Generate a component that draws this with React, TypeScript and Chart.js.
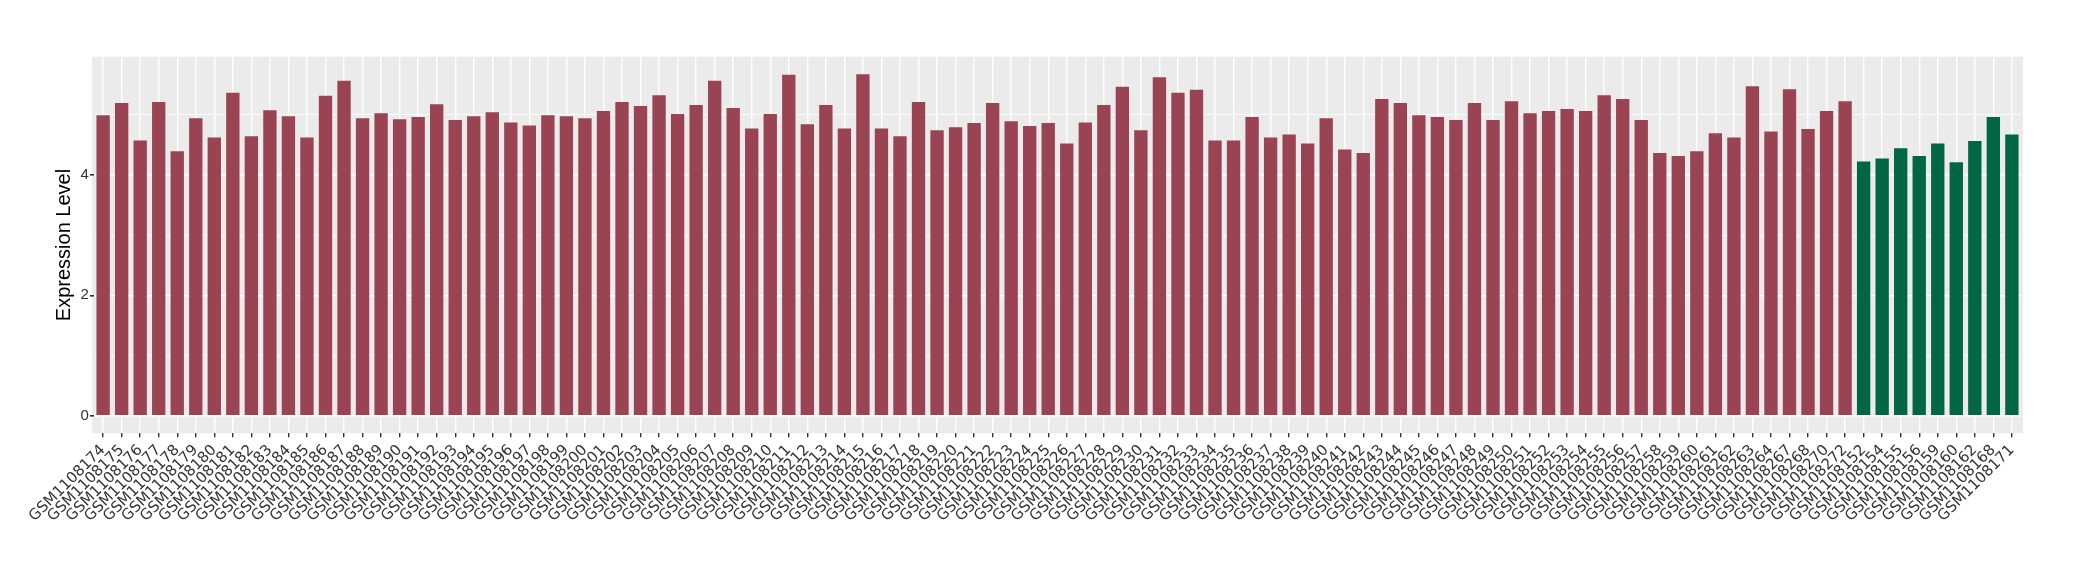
import { useEffect, useRef } from 'react';
import { Chart, registerables } from 'chart.js';

Chart.register(...registerables);

// ---- data ----
const TUMOR_SAMPLES = [
  'GSM1108174', 'GSM1108175', 'GSM1108176', 'GSM1108177', 'GSM1108178', 'GSM1108179', 'GSM1108180', 'GSM1108181',
  'GSM1108182', 'GSM1108183', 'GSM1108184', 'GSM1108185', 'GSM1108186', 'GSM1108187', 'GSM1108188', 'GSM1108189',
  'GSM1108190', 'GSM1108191', 'GSM1108192', 'GSM1108193', 'GSM1108194', 'GSM1108195', 'GSM1108196', 'GSM1108197',
  'GSM1108198', 'GSM1108199', 'GSM1108200', 'GSM1108201', 'GSM1108202', 'GSM1108203', 'GSM1108204', 'GSM1108205',
  'GSM1108206', 'GSM1108207', 'GSM1108208', 'GSM1108209', 'GSM1108210', 'GSM1108211', 'GSM1108212', 'GSM1108213',
  'GSM1108214', 'GSM1108215', 'GSM1108216', 'GSM1108217', 'GSM1108218', 'GSM1108219', 'GSM1108220', 'GSM1108221',
  'GSM1108222', 'GSM1108223', 'GSM1108224', 'GSM1108225', 'GSM1108226', 'GSM1108227', 'GSM1108228', 'GSM1108229',
  'GSM1108230', 'GSM1108231', 'GSM1108232', 'GSM1108233', 'GSM1108234', 'GSM1108235', 'GSM1108236', 'GSM1108237',
  'GSM1108238', 'GSM1108239', 'GSM1108240', 'GSM1108241', 'GSM1108242', 'GSM1108243', 'GSM1108244', 'GSM1108245',
  'GSM1108246', 'GSM1108247', 'GSM1108248', 'GSM1108249', 'GSM1108250', 'GSM1108251', 'GSM1108252', 'GSM1108253',
  'GSM1108254', 'GSM1108255', 'GSM1108256', 'GSM1108257', 'GSM1108258', 'GSM1108259', 'GSM1108260', 'GSM1108261',
  'GSM1108262', 'GSM1108263', 'GSM1108264', 'GSM1108267', 'GSM1108268', 'GSM1108270', 'GSM1108272',
];

const NORMAL_SAMPLES = [
  'GSM1108152', 'GSM1108154', 'GSM1108155', 'GSM1108156', 'GSM1108159',
  'GSM1108160', 'GSM1108162', 'GSM1108168', 'GSM1108171',
];

const TUMOR_VALUES = [
  4.99, 5.19, 4.57, 5.21, 4.39, 4.94, 4.62, 5.36, 4.64, 5.07, 4.97, 4.62, 5.31,
  5.56, 4.94, 5.02, 4.92, 4.96, 5.17, 4.91, 4.97, 5.04, 4.87, 4.82, 4.99, 4.97,
  4.94, 5.06, 5.21, 5.14, 5.32, 5.01, 5.16, 5.56, 5.11, 4.77, 5.01, 5.66, 4.84,
  5.16, 4.77, 5.67, 4.77, 4.64, 5.21, 4.74, 4.79, 4.86, 5.19, 4.89, 4.81, 4.86,
  4.52, 4.87, 5.16, 5.46, 4.74, 5.62, 5.36, 5.41, 4.57, 4.57, 4.96, 4.62, 4.67,
  4.52, 4.94, 4.42, 4.36, 5.26, 5.19, 4.99, 4.96, 4.91, 5.19, 4.91, 5.22, 5.02,
  5.06, 5.09, 5.06, 5.32, 5.26, 4.91, 4.36, 4.31, 4.39, 4.69, 4.62, 5.47, 4.72,
  5.42, 4.76, 5.06, 5.22,
];

const NORMAL_VALUES = [4.22, 4.27, 4.44, 4.31, 4.52, 4.21, 4.56, 4.96, 4.67];

const Y_TICKS = [0, 1, 2, 3, 4, 5];
const Y_LABELED_TICKS = [0, 2, 4];

const Y_TITLE = 'Expression Level';

// ---- styles ----
const TUMOR_COLOR = '#9A4352';
const NORMAL_COLOR = '#006644';
const PANEL_BG = '#EBEBEB';
const TEXT_COLOR = '#333333';
const FONT = '"Liberation Sans", Arial, Helvetica, sans-serif';
const LABEL_FONT = '"DejaVu Sans", "Liberation Sans", sans-serif';

const labels = [...TUMOR_SAMPLES, ...NORMAL_SAMPLES];
const values = [...TUMOR_VALUES, ...NORMAL_VALUES];
const colors = [
  ...TUMOR_VALUES.map(() => TUMOR_COLOR),
  ...NORMAL_VALUES.map(() => NORMAL_COLOR),
];

// panel spans 92..2023; ggplot expands discrete axis by 0.6 units, chart.js offset by 0.5
const PANEL_LEFT = 92;
const PANEL_RIGHT = 2023;
const UNIT = (PANEL_RIGHT - PANEL_LEFT) / (labels.length + 0.2);
const EXT = UNIT * 0.1;

const panelBg = {
  id: 'panelBg',
  beforeDraw(chart: any) {
    const { ctx, chartArea: a } = chart;
    ctx.save();
    ctx.fillStyle = PANEL_BG;
    ctx.fillRect(a.left - EXT, a.top, a.right - a.left + 2 * EXT, a.bottom - a.top);
    ctx.restore();
  },
};

export default function App() {
  const ref = useRef<HTMLCanvasElement | null>(null);

  useEffect(() => {
    document.body.style.margin = '0';
    const canvas = ref.current;
    if (!canvas) return;
    const chart = new Chart(canvas, {
      type: 'bar',
      data: {
        labels,
        datasets: [
          {
            data: values,
            backgroundColor: colors,
            borderWidth: 0,
            barPercentage: 0.72,
            categoryPercentage: 1,
          },
        ],
      },
      plugins: [panelBg],
      options: {
        animation: false,
        responsive: false,
        devicePixelRatio: 1,
        layout: {
          padding: { top: 56.7, right: 2080 - PANEL_RIGHT + EXT, bottom: 0, left: 0 },
        },
        plugins: {
          legend: { display: false },
          tooltip: { enabled: false },
          title: { display: false },
        },
        scales: {
          x: {
            type: 'category',
            offset: true,
            border: { display: false },
            grid: {
              offset: false,
              color: '#FFFFFF',
              lineWidth: 1.4,
              tickColor: '#333333',
              tickLength: 4,
              drawTicks: true,
            },
            ticks: {
              autoSkip: false,
              minRotation: 45,
              maxRotation: 45,
              padding: 4,
              color: TEXT_COLOR,
              font: { family: LABEL_FONT, size: 15 },
            },
            afterFit(scale: any) {
              scale.height = 580 - 433.3;
            },
          },
          y: {
            type: 'linear',
            min: -0.29,
            max: 5.96,
            border: { display: false },
            afterBuildTicks(scale: any) {
              scale.ticks = Y_TICKS.map((v) => ({ value: v }));
            },
            afterFit(scale: any) {
              scale.width = PANEL_LEFT + EXT;
            },
            grid: {
              color: '#FFFFFF',
              lineWidth: (ctx: any) =>
                ctx.tick && Y_LABELED_TICKS.includes(ctx.tick.value) ? 1.6 : 0.8,
              tickColor: (ctx: any) =>
                ctx.tick && Y_LABELED_TICKS.includes(ctx.tick.value) ? '#333333' : 'rgba(0,0,0,0)',
              tickLength: 4,
            },
            ticks: {
              padding: 1,
              color: TEXT_COLOR,
              font: { family: FONT, size: 15 },
              callback: (v: any) => (Y_LABELED_TICKS.includes(Number(v)) ? String(v) : ''),
            },
            title: {
              display: true,
              text: Y_TITLE,
              color: '#000000',
              font: { family: FONT, size: 20 },
              padding: { top: 52, bottom: 0 },
            },
          },
        },
      },
    } as any);
    return () => chart.destroy();
  }, []);

  return (
    <div style={{ width: 2080, height: 580, background: '#FFFFFF' }}>
      <canvas ref={ref} width={2080} height={580} style={{ display: 'block' }} />
    </div>
  );
}
